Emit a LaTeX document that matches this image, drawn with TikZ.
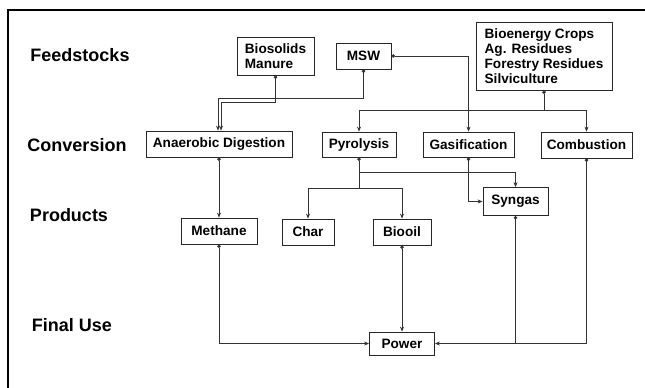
\documentclass[tikz,border=0pt]{standalone}
\usepackage{fontspec}
\setmainfont{Liberation Sans}
\usetikzlibrary{arrows.meta}
\begin{document}
\begin{tikzpicture}[x=1pt,y=-1pt,
  box/.style={draw=black!85,line width=0.8pt,fill=white,inner sep=2pt,
    font=\fontsize{13.6}{15}\selectfont\bfseries},
  lbl/.style={font=\fontsize{18}{20}\selectfont\bfseries},
  link/.style={draw=black!80,line width=0.7pt,{Circle[length=3.5pt]}-{Stealth[length=5pt,width=4pt]}},
  dotline/.style={draw=black!80,line width=0.7pt,{Circle[length=3.5pt]}-},
  arrline/.style={draw=black!80,line width=0.7pt,-{Stealth[length=5pt,width=4pt]}},
  plain/.style={draw=black!80,line width=0.7pt}]
\useasboundingbox (0,0) rectangle (645,388);
\draw[line width=1.6pt] (8,400) -- (8,10) -- (660,10);
% row labels
\node[lbl] (lf) at (80,55) {Feedstocks};
\node[lbl] (lc) at (77,145) {Conversion};
\node[lbl] (lp) at (69,215) {Products};
\node[lbl] (lu) at (72,325) {Final Use};
% boxes
\node[box,minimum width=77pt,minimum height=38pt,align=left] (bio) at (275.5,56) {Biosolids\\Manure};
\node[box,minimum width=55pt,minimum height=26pt] (msw) at (363.5,56) {MSW};
\node[box,minimum width=136pt,minimum height=68pt,align=left] (crops) at (544,56) {Bioenergy Crops\\Ag. Residues\\Forestry Residues\\Silviculture};
\node[box,minimum width=146pt,minimum height=26pt] (ad) at (219,144) {Anaerobic Digestion};
\node[box,minimum width=74pt,minimum height=25pt] (pyro) at (359,144.5) {Pyrolysis};
\node[box,minimum width=91pt,minimum height=25pt] (gas) at (468.5,144.5) {Gasification};
\node[box,minimum width=91pt,minimum height=26pt] (comb) at (586.5,145) {Combustion};
\node[box,minimum width=76pt,minimum height=26pt] (meth) at (219,231) {Methane};
\node[box,minimum width=52pt,minimum height=26pt] (char) at (308,232) {Char};
\node[box,minimum width=58pt,minimum height=26pt] (bioil) at (402,232) {Biooil};
\node[box,minimum width=65pt,minimum height=28pt] (syn) at (515.5,201.5) {Syngas};
\node[box,minimum width=65pt,minimum height=23pt] (power) at (402,343.5) {Power};
% junction coordinates
\coordinate (jb) at (221,102);
\coordinate (jm) at (218,98.5);
\coordinate (jc) at (544,110);
\path (pyro.south) ++(0,15) coordinate (jp1);
\path (pyro.south) ++(0,31) coordinate (jp2);
% connectors
\draw[link] (bio.south) |- (jb) -- (jb |- ad.north);
\draw[link] (msw.south) |- (jm) -- (jm |- ad.north);
\draw[dotline] (crops.south) -- (jc);
\draw[arrline] (jc) -| (pyro.north);
\draw[arrline] (jc) -| (comb.north);
\draw[link] (msw.east) -| (gas.north);
\draw[dotline] (pyro.south) -- (jp2);
\draw[arrline] (jp1) -| (syn.north);
\draw[arrline] (jp2) -| (char.north);
\draw[arrline] (jp2) -| (bioil.north);
\draw[link] (gas.south) |- (syn.west);
\draw[link] (ad.south) -- (meth.north);
\draw[link] (meth.south) |- (power.west);
\draw[link] (bioil.south) -- (power.north);
\draw[dotline] (syn.south) -- (syn.south |- power.east);
\draw[link] (comb.south) |- (power.east);
\end{tikzpicture}
\end{document}
